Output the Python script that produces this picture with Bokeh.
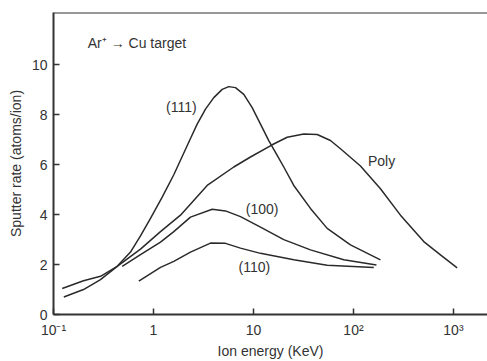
from bokeh.plotting import figure
from bokeh.models import FixedTicker, Span, Label
from bokeh.embed import file_html
from bokeh.resources import INLINE

# Ion energy (KeV) and sputter rate (atoms/ion)
energy_111 = [0.1222, 0.1995, 0.2951, 0.4335, 0.5888, 0.7413, 0.9333, 1.222, 1.596, 2.344, 2.735,
              3.311, 4.009, 4.864, 5.662, 6.607, 8.000, 9.705, 11.75, 14.22, 17.26, 20.09, 25.29,
              37.15, 54.58, 93.3, 186.2]
rate_111 = [1.04, 1.35, 1.53, 1.93, 2.50, 3.15, 3.85, 4.70, 5.60, 7.05, 7.63,
            8.23, 8.69, 9.02, 9.13, 9.09, 8.82, 8.29, 7.63, 6.97, 6.38, 5.91, 5.17,
            4.25, 3.45, 2.79, 2.19]

energy_poly = [0.1268, 0.1995, 0.2951, 0.4335, 0.7413, 1.175, 1.862, 3.443, 6.353, 9.333, 15.38,
               21.73, 31.84, 43.35, 58.88, 74.13, 117.5, 186.2, 295.1, 504.7, 741.3, 1089]
rate_poly = [0.70, 1.00, 1.40, 1.93, 2.62, 3.32, 3.98, 5.17, 5.91, 6.31, 6.80,
             7.10, 7.23, 7.21, 6.97, 6.64, 5.95, 5.04, 3.98, 2.92, 2.39, 1.87]

energy_100 = [0.4864, 0.7413, 1.175, 1.596, 2.344, 3.864, 5.248, 7.413, 11.75, 20.09, 37.15, 80.0, 169.8]
rate_100 = [1.93, 2.40, 2.90, 3.32, 3.90, 4.22, 4.15, 3.92, 3.50, 3.00, 2.59, 2.19, 1.98]

energy_110 = [0.7129, 1.175, 1.596, 2.344, 3.715, 5.248, 7.413, 11.75, 25.29, 54.58, 159.6]
rate_110 = [1.34, 1.89, 2.13, 2.50, 2.86, 2.85, 2.66, 2.45, 2.19, 1.97, 1.88]

x_ticks = [0.1, 1, 10, 100, 1000]
x_tick_labels = ["10\u207b\u00b9", "1", "10", "10\u00b2", "10\u00b3"]
y_ticks = [0, 2, 4, 6, 8, 10]

# curve label annotations (text, energy, rate)
curve_label_text = ["(111)", "Poly", "(100)", "(110)"]
curve_label_x = [1.9, 191, 12.2, 10.2]
curve_label_y = [8.33, 6.15, 4.21, 1.90]

FONT = "Liberation Sans"
INK = "#2a2a2a"
TXT = "#333333"

p = figure(width=487, height=361, x_axis_type="log",
           x_range=(0.1, 2190), y_range=(0, 12.1),
           output_backend="svg", toolbar_location=None,
           min_border_left=53, min_border_right=0,
           min_border_top=12, min_border_bottom=44)

p.outline_line_color = None
p.grid.grid_line_color = None
p.background_fill_color = "white"
p.border_fill_color = "white"

for ex, ry in [(energy_111, rate_111), (energy_poly, rate_poly),
               (energy_100, rate_100), (energy_110, rate_110)]:
    p.line(ex, ry, line_color=INK, line_width=1.5, line_join="round")

# top frame line
p.add_layout(Span(location=12.1, dimension="width", line_color="#333333", line_width=2))

p.xaxis.ticker = FixedTicker(ticks=x_ticks)
p.xaxis.major_label_overrides = {t: s for t, s in zip(x_ticks, x_tick_labels)}
p.yaxis.ticker = FixedTicker(ticks=y_ticks)

for ax in (p.xaxis, p.yaxis):
    ax.axis_line_color = "#333333"
    ax.axis_line_width = 2
    ax.major_tick_in = 6
    ax.major_tick_out = 0
    ax.major_tick_line_color = "#333333"
    ax.major_tick_line_width = 1.5
    ax.minor_tick_line_color = None
    ax.major_label_text_font = FONT
    ax.major_label_text_font_size = "14px"
    ax.major_label_text_color = TXT
    ax.axis_label_text_font = FONT
    ax.axis_label_text_font_size = "14px"
    ax.axis_label_text_font_style = "normal"
    ax.axis_label_text_color = TXT

p.xaxis.axis_label = "Ion energy (KeV)"
p.yaxis.axis_label = "Sputter rate (atoms/ion)"
p.xaxis.major_label_standoff = 7
p.xaxis.axis_label_standoff = 2
p.yaxis.major_label_standoff = 6
p.yaxis.axis_label_standoff = 5

for txt, lx, ly in zip(curve_label_text, curve_label_x, curve_label_y):
    p.add_layout(Label(x=lx, y=ly, text=txt, text_font=FONT, text_font_size="14px",
                       text_color=TXT, text_align="center", text_baseline="middle"))

p.add_layout(Label(x=0.22, y=10.87, text="Ar\u207a \u2192 Cu target", text_font=FONT,
                   text_font_size="14px", text_color=TXT,
                   text_align="left", text_baseline="middle"))

open("out.html", "w").write(file_html(p, INLINE))
